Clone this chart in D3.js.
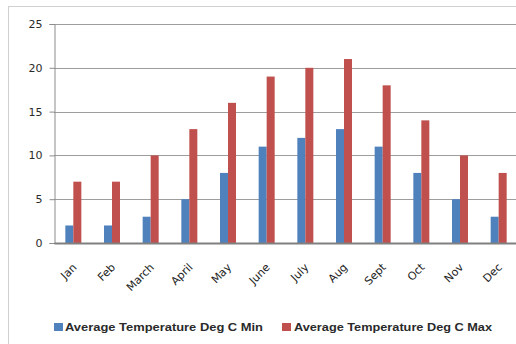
<!DOCTYPE html>
<html>
<head>
<meta charset="utf-8">
<script src="https://cdn.jsdelivr.net/npm/d3@7"></script>
<style>
  html, body { margin: 0; padding: 0; background: #fff; }
  svg { display: block; }
  text { font-family: "DejaVu Sans", sans-serif; }
</style>
</head>
<body>
<svg id="chart" width="516" height="344"></svg>
<script>
// Monthly average temperatures (deg C)
const months = ["Jan", "Feb", "March", "April", "May", "June", "July", "Aug", "Sept", "Oct", "Nov", "Dec"];
const minTemps = [2, 2, 3, 5, 8, 11, 12, 13, 11, 8, 5, 3];
const maxTemps = [7, 7, 10, 13, 16, 19, 20, 21, 18, 14, 10, 8];
const seriesNames = ["Average Temperature Deg C Min", "Average Temperature Deg C Max"];
const seriesColors = ["#4F81BD", "#C0504D"];
const yTicks = [0, 5, 10, 15, 20, 25];

const svg = d3.select("#chart");

// outer chart frame
svg.append("rect")
  .attr("x", 8.5).attr("y", 6.5)
  .attr("width", 540).attr("height", 360)
  .attr("fill", "#fff").attr("stroke", "#d0d0d0");

const plot = { left: 54, right: 518, top: 24, bottom: 243 };

const x = d3.scaleBand().domain(months).range([plot.left, plot.right]);
const y = d3.scaleLinear().domain([0, 25]).range([plot.bottom, plot.top]);

const barW = 8;
const series = [minTemps, maxTemps];

// horizontal gridlines
svg.append("g").selectAll("line")
  .data(yTicks.filter(d => d > 0))
  .join("line")
  .attr("x1", plot.left).attr("x2", plot.right)
  .attr("y1", d => Math.round(y(d)) + 0.5).attr("y2", d => Math.round(y(d)) + 0.5)
  .attr("stroke", "#9d9d9d").attr("stroke-width", 1);

// y axis
const yAxis = svg.append("g")
  .attr("transform", `translate(${plot.left + 0.5},0)`)
  .call(d3.axisLeft(y).tickValues(yTicks).tickSize(5).tickPadding(7));
yAxis.select(".domain").attr("stroke", "#8c8c8c");
yAxis.selectAll(".tick line").attr("stroke", "#8c8c8c");
yAxis.selectAll(".tick text")
  .attr("fill", "#2a2a2a")
  .style("font-size", "11px")
  .style("font-family", "DejaVu Sans, sans-serif");

// bars
series.forEach((vals, si) => {
  svg.append("g").selectAll("rect")
    .data(vals)
    .join("rect")
    .attr("x", (d, i) => x(months[i]) + x.bandwidth() / 2 - barW + si * barW)
    .attr("y", d => y(d))
    .attr("width", barW)
    .attr("height", d => y(0) - y(d))
    .attr("fill", seriesColors[si]);
});

// x axis with slanted month labels
const xAxis = svg.append("g")
  .attr("transform", `translate(0,${plot.bottom})`)
  .call(d3.axisBottom(x).tickSize(0).tickPadding(0));
xAxis.select(".domain").attr("stroke", "#808080").attr("stroke-width", 2);
xAxis.selectAll(".tick text")
  .attr("fill", "#222")
  .style("font-size", "11px")
  .style("font-family", "DejaVu Sans, sans-serif")
  .attr("text-anchor", "end")
  .attr("dy", "0")
  .attr("transform", "translate(4,25) rotate(-45)");

// legend
const legend = svg.append("g").attr("transform", "translate(54,327)");
const legendX = [0, 228];
seriesNames.forEach((name, i) => {
  const g = legend.append("g").attr("transform", `translate(${legendX[i]},0)`);
  g.append("rect").attr("x", 0).attr("y", -4).attr("width", 9).attr("height", 8)
    .attr("fill", seriesColors[i]);
  g.append("text").attr("x", i === 0 ? 11 : 12).attr("y", 4)
    .attr("fill", "#2a2a2a")
    .style("font-size", "11px")
    .style("font-weight", "bold")
    .style("font-family", "Liberation Sans, sans-serif")
    .attr("textLength", 198)
    .attr("lengthAdjust", "spacingAndGlyphs")
    .text(name);
});
</script>
</body>
</html>
